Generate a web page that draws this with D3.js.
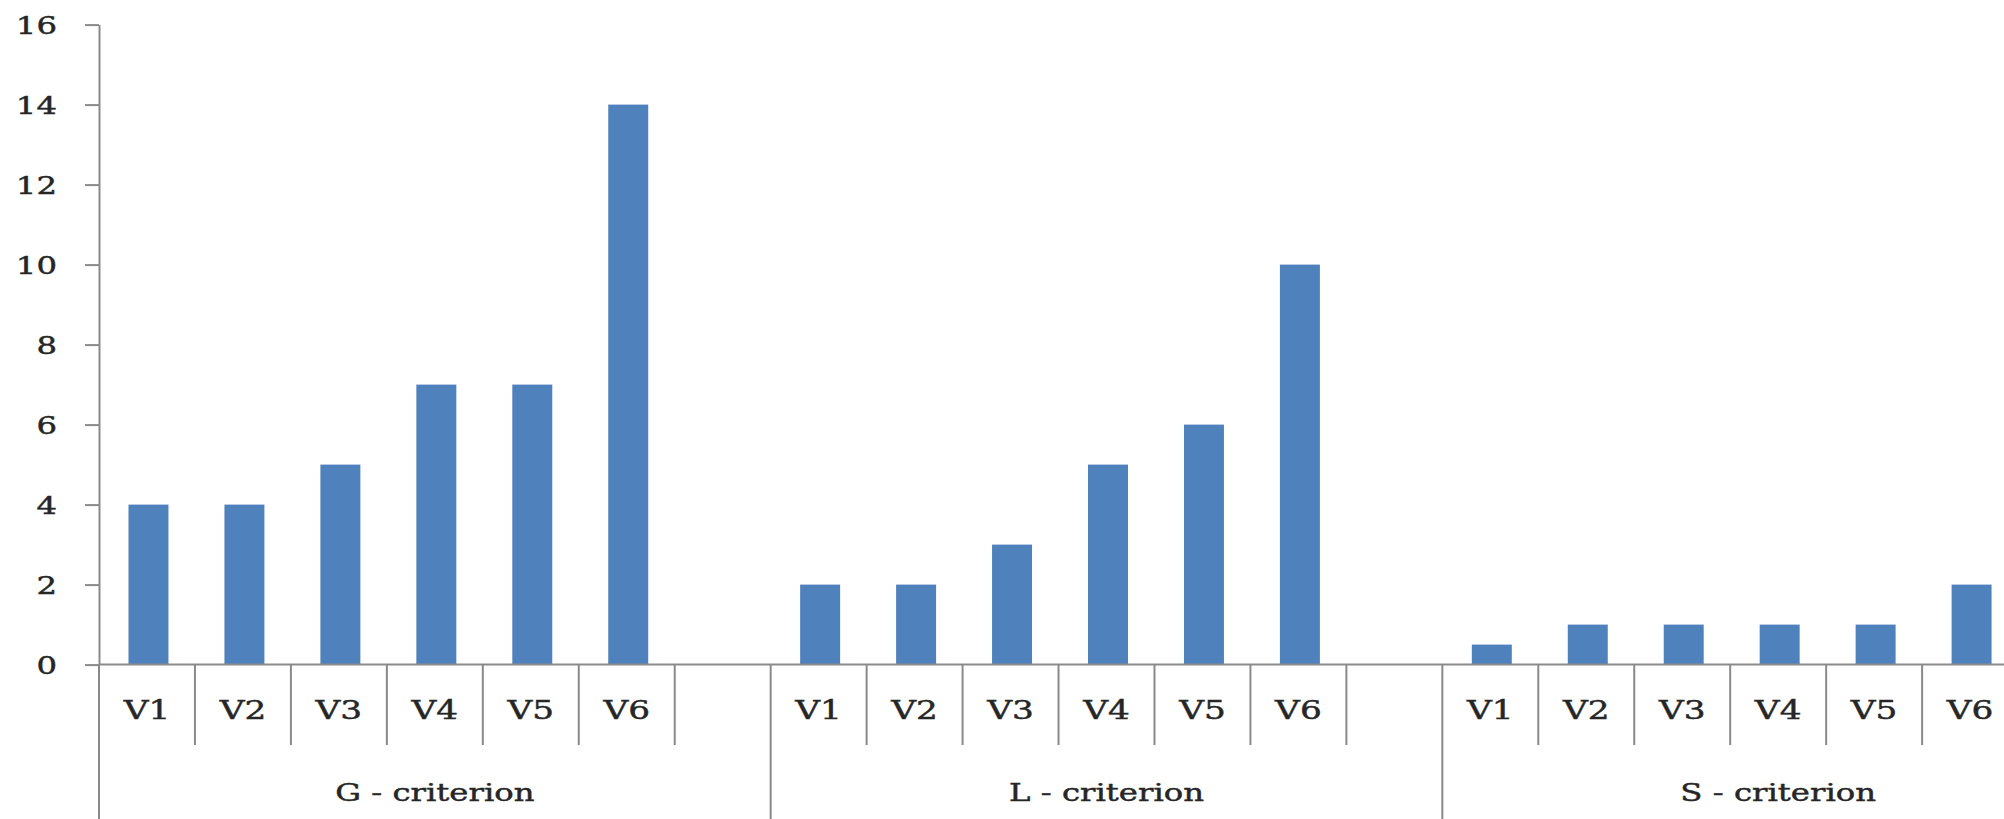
<!DOCTYPE html>
<html>
<head>
<meta charset="utf-8">
<script src="https://cdn.jsdelivr.net/npm/d3@7"></script>
<style>
  html, body { margin: 0; padding: 0; background: #ffffff; }
  svg { display: block; }
</style>
</head>
<body>
<script>
// ---- data ----
const groups = ["G - criterion", "L - criterion", "S - criterion"];
const variants = ["V1", "V2", "V3", "V4", "V5", "V6"];
const gCriterion = [4, 4, 5, 7, 7, 14];
const lCriterion = [2, 2, 3, 5, 6, 10];
const sCriterion = [0.5, 1, 1, 1, 1, 2];
const yTicks = [0, 2, 4, 6, 8, 10, 12, 14, 16];

// ---- layout ----
const W = 2004, H = 819;
const plotLeft = 99, plotRight = 2114;   // category band runs past the right edge
const yZero = 664.6, yTop = 24.6;
const axisColor = "#8a8a8a";
const textColor = "#262626";
const barColor = "#4f81bd";
const fontFamily = "'DejaVu Serif', 'Liberation Serif', serif";
const sx = 1.32;                          // horizontal text stretch

const seriesByGroup = [gCriterion, lCriterion, sCriterion];

// every group holds its six variants followed by one empty slot
const slots = groups.flatMap((g, gi) => [
  ...variants.map((v, vi) => ({ group: g, key: g + "|" + v, label: v, value: seriesByGroup[gi][vi] })),
  { group: g, key: g + "|gap", label: "", value: null }
]);

const x = d3.scaleBand()
  .domain(slots.map(d => d.key))
  .range([plotLeft, plotRight])
  .paddingInner(0)
  .paddingOuter(0);

const y = d3.scaleLinear().domain([0, 16]).range([yZero, yTop]);

const svg = d3.select("body").append("svg")
  .attr("width", W)
  .attr("height", H)
  .attr("viewBox", `0 0 ${W} ${H}`);

svg.append("rect").attr("width", W).attr("height", H).attr("fill", "#ffffff");

// shared text styling: slightly heavier strokes
function styleText(sel, size) {
  sel.attr("fill", textColor)
    .attr("stroke", textColor)
    .attr("stroke-width", 0.45)
    .style("font-family", fontFamily)
    .style("font-size", size);
}

// ---- bars ----
const bw = x.bandwidth();
const barW = bw / 2.4;
svg.append("g").selectAll("rect")
  .data(slots.filter(d => d.value !== null))
  .join("rect")
  .attr("x", d => x(d.key) + (bw - barW) / 2 + 1.5)
  .attr("y", d => y(d.value))
  .attr("width", barW)
  .attr("height", d => y(0) - y(d.value))
  .attr("fill", barColor);

// ---- y axis ----
const yAxis = svg.append("g")
  .attr("transform", `translate(${plotLeft},0)`)
  .call(d3.axisLeft(y).tickValues(yTicks).tickSize(14).tickSizeOuter(0).tickPadding(28).tickFormat(d3.format("d")));

yAxis.select(".domain").attr("stroke", axisColor).attr("stroke-width", 2);
yAxis.selectAll(".tick line").attr("stroke", axisColor).attr("stroke-width", 2);
yAxis.selectAll(".tick text")
  .attr("x", null)
  .attr("dy", "0.36em")
  .attr("transform", `translate(-42,0) scale(${sx},1)`)
  .call(styleText, "24.5px");

// ---- category axis ----
const catAxis = svg.append("g");

// baseline
catAxis.append("line")
  .attr("x1", plotLeft).attr("x2", plotRight)
  .attr("y1", y(0)).attr("y2", y(0))
  .attr("stroke", axisColor).attr("stroke-width", 2);

// short separators between categories inside a group
const innerEdges = slots.filter((d, i) => i % 7 !== 0).map(d => x(d.key));
catAxis.selectAll("line.sep")
  .data(innerEdges)
  .join("line")
  .attr("class", "sep")
  .attr("x1", d => d).attr("x2", d => d)
  .attr("y1", y(0)).attr("y2", 745)
  .attr("stroke", axisColor).attr("stroke-width", 2);

// long separators at group boundaries
const groupEdges = groups.map(g => x(g + "|V1"));
catAxis.selectAll("line.grp")
  .data(groupEdges)
  .join("line")
  .attr("class", "grp")
  .attr("x1", d => d).attr("x2", d => d)
  .attr("y1", y(0)).attr("y2", H)
  .attr("stroke", axisColor).attr("stroke-width", 2);

// variant labels
catAxis.selectAll("text.var")
  .data(slots.filter(d => d.label))
  .join("text")
  .attr("class", "var")
  .attr("transform", d => `translate(${x(d.key) + bw / 2},${710}) scale(${sx},1)`)
  .attr("dy", "0.36em")
  .attr("text-anchor", "middle")
  .call(styleText, "26px")
  .text(d => d.label);

// group labels
catAxis.selectAll("text.grp")
  .data(groups)
  .join("text")
  .attr("class", "grp")
  .attr("transform", g => `translate(${x(g + "|V1") + bw * 3.5},${792}) scale(${sx},1)`)
  .attr("dy", "0.36em")
  .attr("text-anchor", "middle")
  .call(styleText, "24.5px")
  .text(g => g);
</script>
</body>
</html>
